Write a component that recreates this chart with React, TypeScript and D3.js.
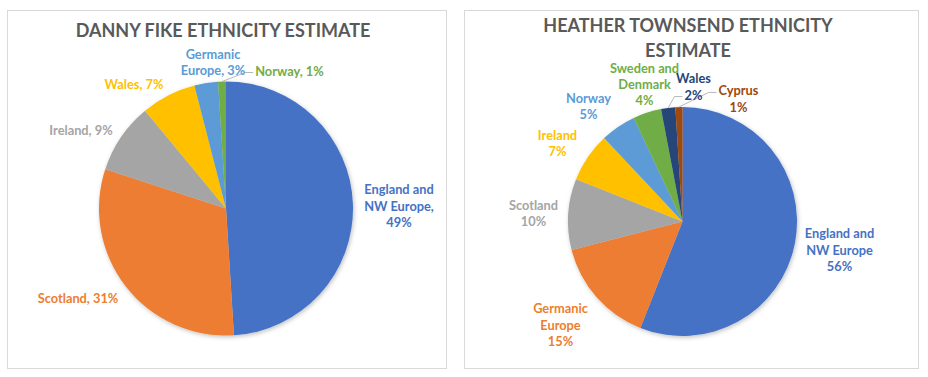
import React from "react";
import * as d3 from "d3";

const FONT = "Lato, 'Open Sans', sans-serif";

// Left chart data
const dannyCategories = ["England and NW Europe", "Scotland", "Ireland", "Wales", "Germanic Europe", "Norway"];
const dannyValues = [49, 31, 9, 7, 3, 1];
const dannyColors = ["#4472C4", "#ED7D31", "#A5A5A5", "#FFC000", "#5B9BD5", "#70AD47"];
const dannyLabelLines = [["England and", "NW Europe,", "49%"], ["Scotland, 31%"], ["Ireland, 9%"], ["Wales, 7%"], ["Germanic", "Europe, 3%"], ["Norway, 1%"]];

// Right chart data
const heatherCategories = ["England and NW Europe", "Germanic Europe", "Scotland", "Ireland", "Norway", "Sweden and Denmark", "Wales", "Cyprus"];
const heatherValues = [56, 15, 10, 7, 5, 4, 2, 1];
const heatherColors = ["#4472C4", "#ED7D31", "#A5A5A5", "#FFC000", "#5B9BD5", "#70AD47", "#264478", "#9E480E"];
const heatherLabelLines = [["England and", "NW Europe", "56%"], ["Germanic", "Europe", "15%"], ["Scotland", "10%"], ["Ireland", "7%"], ["Norway", "5%"], ["Sweden and", "Denmark", "4%"], ["Wales", "2%"], ["Cyprus", "1%"]];

// Layout (label block centres relative to pie centre)
const dannyLabelOffsets: [number, number][] = [[173, -3], [-148, 89], [-145, -79], [-92, -125], [-13, -146.5], [63.5, -138]];
const heatherLabelOffsets: [number, number][] = [[157, 28], [-122, 103], [-149, -8.5], [-125, -78.5], [-94, -115.5], [-38, -137.5], [11, -135], [56, -123]];

const LINE_H = 16.1;
const LABEL_SIZE = 12.8;
const TITLE_SIZE = 18;

let measureCtx: CanvasRenderingContext2D | null = null;
function textWidth(s: string, size: number) {
  if (!measureCtx) {
    const c = document.createElement("canvas");
    measureCtx = c.getContext("2d");
  }
  if (!measureCtx) return s.length * size * 0.55;
  measureCtx.font = `bold ${size}px ${FONT}`;
  return measureCtx.measureText(s).width;
}

type PieProps = {
  cx: number;
  cy: number;
  r: number;
  categories: string[];
  values: number[];
  colors: string[];
  labelLines: string[][];
  offsets: [number, number][];
  leaders: { idx: number; line: number }[];
  filterId: string;
};

function Pie({ cx, cy, r, categories, values, colors, labelLines, offsets, leaders, filterId }: PieProps) {
  const pie = d3.pie<number>().sort(null).value((d) => d);
  const arcs = pie(values);
  const arc = d3.arc<d3.PieArcDatum<number>>().innerRadius(0).outerRadius(r);
  return (
    <g>
      <g transform={`translate(${cx},${cy})`} filter={`url(#${filterId})`}>
        {arcs.map((a, i) => (
          <path key={categories[i]} d={arc(a) || ""} fill={colors[i]} />
        ))}
      </g>
      {leaders.map(({ idx, line }) => {
        const a = arcs[idx];
        const mid = (a.startAngle + a.endAngle) / 2;
        const sx = cx + Math.sin(mid) * r;
        const sy = cy - Math.cos(mid) * r;
        const lines = labelLines[idx];
        const [ox, oy] = offsets[idx];
        const top = cy + oy - ((lines.length - 1) * LINE_H) / 2;
        const ly = top + line * LINE_H + 2;
        const w = textWidth(lines[line], LABEL_SIZE);
        const ex = cx + ox - w / 2 - 2;
        const bx = ex - 8;
        return (
          <polyline
            key={"l" + idx}
            points={`${sx},${sy} ${bx},${ly} ${ex},${ly}`}
            fill="none"
            stroke="#A6A6A6"
            strokeWidth={0.8}
          />
        );
      })}
      {labelLines.map((lines, i) => {
        const [ox, oy] = offsets[i];
        const top = cy + oy - ((lines.length - 1) * LINE_H) / 2;
        return (
          <text
            key={"t" + i}
            x={cx + ox}
            textAnchor="middle"
            fontFamily={FONT}
            fontWeight="bold"
            fontSize={LABEL_SIZE}
            fill={colors[i]}
          >
            {lines.map((s, j) => (
              <tspan key={j} x={cx + ox} y={top + j * LINE_H} dominantBaseline="central">
                {s}
              </tspan>
            ))}
          </text>
        );
      })}
    </g>
  );
}

export default function App() {
  return (
    <svg
      width={928}
      height={377}
      style={{ position: "absolute", left: 0, top: 0, background: "#fff" }}
    >
      <defs>
        <filter id="shadow" x="-20%" y="-20%" width="140%" height="140%">
          <feDropShadow dx="1" dy="1.5" stdDeviation="2" floodColor="#000" floodOpacity="0.25" />
        </filter>
      </defs>
      <rect x={0} y={0} width={928} height={377} fill="#fff" />
      <rect x={7.5} y={10.5} width={439} height={358} fill="#fff" stroke="#D9D9D9" />
      <rect x={464.5} y={10.5} width={454} height={358} fill="#fff" stroke="#D9D9D9" />

      <text x={223} y={30} textAnchor="middle" dominantBaseline="central" fontFamily={FONT} fontWeight="bold" fontSize={TITLE_SIZE} fill="#595959">
        DANNY FIKE ETHNICITY ESTIMATE
      </text>
      <text textAnchor="middle" fontFamily={FONT} fontWeight="bold" fontSize={TITLE_SIZE} fill="#595959">
        <tspan x={688} y={25} dominantBaseline="central">HEATHER TOWNSEND ETHNICITY</tspan>
        <tspan x={688} y={50} dominantBaseline="central">ESTIMATE</tspan>
      </text>

      <Pie
        cx={226}
        cy={208.5}
        r={127}
        categories={dannyCategories}
        values={dannyValues}
        colors={dannyColors}
        labelLines={dannyLabelLines}
        offsets={dannyLabelOffsets}
        leaders={[{ idx: 5, line: 0 }]}
        filterId="shadow"
      />
      <Pie
        cx={682.5}
        cy={221.5}
        r={114.5}
        categories={heatherCategories}
        values={heatherValues}
        colors={heatherColors}
        labelLines={heatherLabelLines}
        offsets={heatherLabelOffsets}
        leaders={[{ idx: 6, line: 1 }, { idx: 7, line: 0 }]}
        filterId="shadow"
      />
    </svg>
  );
}
